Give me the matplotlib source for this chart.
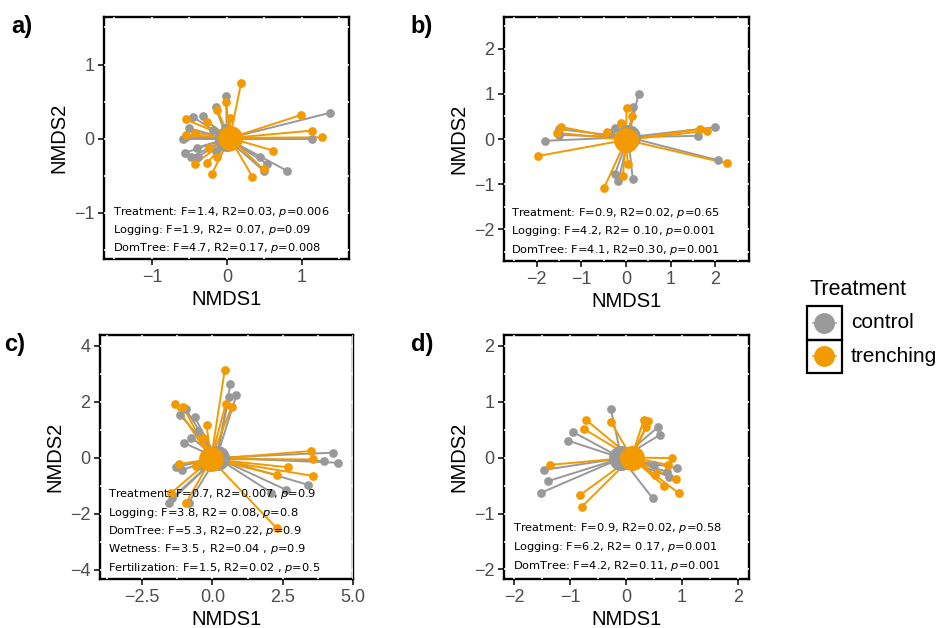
import numpy as np
import matplotlib.pyplot as plt
from matplotlib.ticker import MultipleLocator
from matplotlib.patches import Rectangle
from matplotlib.lines import Line2D

plt.rcParams['font.family'] = ['Liberation Sans', 'DejaVu Sans']

GREY = '#999999'
ORANGE = '#f29a00'

# ---- panel a ----
a_ctrl_x = [1.38, 1.14, 0.80, 0.50, 0.54, 0.44, -0.01, -0.15, -0.45, -0.32, -0.50, -0.59,
            -0.56, -0.48, -0.40, -0.38, -0.14, -0.02, -0.19, -0.55]
a_ctrl_y = [0.35, 0.00, -0.43, -0.44, -0.34, -0.24, 0.57, 0.43, 0.29, 0.30, 0.14, 0.00,
            -0.19, -0.25, -0.12, -0.24, -0.16, 0.14, 0.12, 0.03]
a_tr_x = [0.19, -0.01, 0.99, 1.14, 1.27, 0.62, 0.49, 0.34, -0.20, -0.27, -0.43, -0.24,
          -0.42, -0.55, -0.26, -0.13, 0.04, -0.13, -0.54]
a_tr_y = [0.75, 0.50, 0.32, 0.11, 0.02, -0.16, -0.41, -0.51, -0.47, -0.33, -0.34, -0.12,
          0.08, 0.26, 0.23, -0.24, 0.28, 0.39, 0.05]
a_cent = [(0.00, 0.00), (0.04, 0.01)]

# ---- panel b ----
b_ctrl_x = [0.28, 0.16, 1.99, 1.62, 2.05, 0.15, -0.17, -0.25, -1.81, -1.51, -1.49, -0.36, -0.25, 0.03]
b_ctrl_y = [1.00, 0.71, 0.26, 0.07, -0.47, -0.89, -0.94, -0.78, -0.04, 0.22, 0.09, 0.13, 0.25, 0.13]
b_tr_x = [-1.98, -1.46, -1.55, -0.42, -0.11, 0.01, 0.14, 1.65, 1.80, 2.25, 0.04, -0.07, -0.49]
b_tr_y = [-0.38, 0.27, 0.14, 0.16, 0.35, 0.68, 0.50, 0.22, 0.18, -0.54, -0.56, -0.82, -1.08]
b_cent = [(0.05, 0.04), (0.00, -0.02)]

# ---- panel c ----
c_ctrl_x = [0.64, 0.85, 0.59, -0.95, -1.14, -0.63, -0.75, -1.02, -0.51, 4.29, 4.47, 3.97,
            3.40, 2.63, 2.10, -0.84, -1.54, -1.30, -0.39, -1.45, -1.10]
c_ctrl_y = [2.62, 2.23, 2.17, 1.73, 1.52, 1.44, 0.72, 0.53, 0.96, 0.18, -0.18, -0.12,
            -0.97, -1.15, -1.25, -1.60, -1.60, -0.34, -0.30, -1.45, -0.45]
c_tr_x = [0.44, -1.34, -1.04, -0.21, 0.47, 0.68, 3.52, 3.58, 2.67, 2.31, 3.58, 2.28,
          -0.93, -1.48, -1.19, -0.57, -0.33]
c_tr_y = [3.14, 1.93, 1.81, 1.16, 1.91, 1.81, 0.24, -0.06, -0.34, -0.62, -0.65, -2.51,
          -1.60, -1.27, -0.23, -0.30, 0.72]
c_cent = [(0.15, 0.00), (-0.05, -0.05)]

# ---- panel d ----
d_ctrl_x = [-0.27, -0.95, -1.03, 0.58, 0.60, 0.92, 0.73, 0.77, 0.51, 0.48, -1.46, -1.39, -1.52]
d_ctrl_y = [0.87, 0.46, 0.30, 0.55, 0.40, -0.19, -0.25, -0.34, -0.14, -0.73, -0.22, -0.42, -0.63]
d_tr_x = [-0.71, -0.75, -0.27, 0.32, 0.40, 0.36, 0.82, 0.76, 0.89, 0.95, 0.68, 0.52, -0.82, -0.79, -1.36]
d_tr_y = [0.67, 0.51, 0.64, 0.68, 0.65, 0.54, -0.01, -0.13, -0.39, -0.64, -0.51, -0.31, -0.67, -0.88, -0.13]
d_cent = [(-0.08, -0.01), (0.10, 0.00)]

a_stats = ['Treatment: F=1.4, R2=0.03, $p$=0.006',
           'Logging: F=1.9, R2= 0.07, $p$=0.09',
           'DomTree: F=4.7, R2=0.17, $p$=0.008']
b_stats = ['Treatment: F=0.9, R2=0.02, $p$=0.65',
           'Logging: F=4.2, R2= 0.10, $p$=0.001',
           'DomTree: F=4.1, R2=0.30, $p$=0.001']
c_stats = ['Treatment: F=0.7, R2=0.007, $p$=0.9',
           'Logging: F=3.8, R2= 0.08, $p$=0.8',
           'DomTree: F=5.3, R2=0.22, $p$=0.9',
           'Wetness: F=3.5 , R2=0.04 , $p$=0.9',
           'Fertilization: F=1.5, R2=0.02 , $p$=0.5']
d_stats = ['Treatment: F=0.9, R2=0.02, $p$=0.58',
           'Logging: F=6.2, R2= 0.17, $p$=0.001',
           'DomTree: F=4.2, R2=0.11, $p$=0.001']


def draw_panel(ax, cx, cy, tx, ty, cent, xlim, ylim, ticks_x, ticks_y, minor_x, minor_y,
               stats, text_x, text_y, tag):
    (gx, gy), (ox, oy) = cent
    for x, y in zip(cx, cy):
        ax.plot([gx, x], [gy, y], color=GREY, lw=1.4, zorder=2)
    for x, y in zip(tx, ty):
        ax.plot([ox, x], [oy, y], color=ORANGE, lw=1.4, zorder=2)
    ax.plot(cx, cy, 'o', color=GREY, ms=6.3, mec='none', zorder=3)
    ax.plot(tx, ty, 'o', color=ORANGE, ms=6.3, mec='none', zorder=3)
    ax.plot(gx, gy, 'o', color=GREY, ms=18, mec='none', zorder=4)
    ax.plot(ox, oy, 'o', color=ORANGE, ms=18, mec='none', zorder=4)

    ax.set_xlim(xlim)
    ax.set_ylim(ylim)
    ax.set_xticks(ticks_x)
    ax.set_yticks(ticks_y)
    ax.xaxis.set_minor_locator(MultipleLocator(minor_x))
    ax.yaxis.set_minor_locator(MultipleLocator(minor_y))
    ax.tick_params(which='major', length=4, width=1.1, color='black', labelsize=13,
                   labelcolor='#4d4d4d', pad=3)
    ax.tick_params(which='minor', length=0)
    ax.set_axisbelow('line')
    ax.grid(True, which='both', color='white', lw=1.2)
    for sp in ax.spines.values():
        sp.set_linewidth(1.7)
        sp.set_zorder(1.0)
    ax.set_xlabel('NMDS1', fontsize=14.5, labelpad=3)
    ax.set_ylabel('NMDS2', fontsize=14.5, labelpad=4)

    for line, yy in zip(stats, text_y):
        ax.text(text_x, yy, line, transform=ax.transAxes, fontsize=8.2,
                family='DejaVu Sans', va='baseline', ha='left', zorder=5)

    ax.text(-0.38, 1.01, tag, transform=ax.transAxes, fontsize=17, fontweight='bold',
            va='top', ha='left')


fig = plt.figure(figsize=(9.44, 6.28), dpi=100)
W, H = 944, 628


def add_ax(x0, y0, x1, y1):
    return fig.add_axes([x0 / W, 1 - y1 / H, (x1 - x0) / W, (y1 - y0) / H])


ax_a = add_ax(104, 17, 349, 259)
ax_b = add_ax(504, 17, 749, 261)
ax_c = add_ax(100, 335, 353, 579)
ax_d = add_ax(504, 335, 749, 579)

draw_panel(ax_a, a_ctrl_x, a_ctrl_y, a_tr_x, a_tr_y, a_cent, (-1.64, 1.63), (-1.62, 1.64),
           [-1, 0, 1], [-1, 0, 1], 0.5, 0.5, a_stats, 0.037, [0.182, 0.107, 0.031], 'a)')
draw_panel(ax_b, b_ctrl_x, b_ctrl_y, b_tr_x, b_tr_y, b_cent, (-2.73, 2.75), (-2.71, 2.71),
           [-2, -1, 0, 1, 2], [-2, -1, 0, 1, 2], 0.5, 0.5, b_stats, 0.027,
           [0.185, 0.110, 0.034], 'b)')
draw_panel(ax_c, c_ctrl_x, c_ctrl_y, c_tr_x, c_tr_y, c_cent, (-4.0, 5.0), (-4.33, 4.38),
           [-2.5, 0, 2.5, 5.0], [-4, -2, 0, 2, 4], 1.25, 1.0, c_stats, 0.033,
           [0.338, 0.260, 0.185, 0.109, 0.031], 'c)')
draw_panel(ax_d, d_ctrl_x, d_ctrl_y, d_tr_x, d_tr_y, d_cent, (-2.18, 2.2), (-2.17, 2.19),
           [-2, -1, 0, 1, 2], [-2, -1, 0, 1, 2], 0.5, 0.5, d_stats, 0.035,
           [0.195, 0.117, 0.042], 'd)')
ax_c.set_xticklabels(['\u22122.5', '0.0', '2.5', '5.0'])

# legend drawn in pixel space
lg = fig.add_axes([0, 0, 1, 1])
lg.set_xlim(0, W)
lg.set_ylim(H, 0)
lg.axis('off')
lg.patch.set_alpha(0)
lg.text(809, 295, 'Treatment', fontsize=15.5, va='baseline', ha='left')
for i, (lab, col) in enumerate([('control', GREY), ('trenching', ORANGE)]):
    y0 = 306 + i * 33.5
    lg.add_patch(Rectangle((807, y0), 34.5, 33.5, fill=False, ec='black', lw=1.6))
    cy_ = y0 + 16.75
    lg.add_line(Line2D([812.5, 835.5], [cy_, cy_], color=col, lw=1.1))
    lg.plot(824, cy_, 'o', color=col, ms=15, mec='none')
    lg.text(851, cy_, lab, fontsize=15, va='center', ha='left')

fig.savefig('out.png', dpi=100)
